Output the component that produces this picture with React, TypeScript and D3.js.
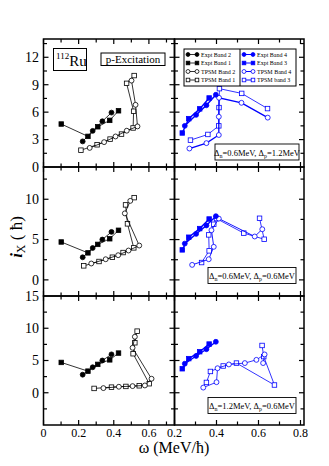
import React from "react";
import * as d3 from "d3";

// ---------- data ----------
const exptBand1Omega = [0.101, 0.253, 0.309, 0.377, 0.427];
const exptBand1Ix = [4.7, 3.35, 4.4, 5.1, 6.15];
const exptBand2Omega = [0.223, 0.28, 0.335, 0.387];
const exptBand2Ix = [2.8, 3.95, 5.0, 5.95];
const exptBand3Omega = [0.237, 0.268, 0.32, 0.365];
const exptBand3Ix = [3.72, 5.29, 6.36, 7.55];
const exptBand4Omega = [0.249, 0.303, 0.352, 0.397];
const exptBand4Ix = [4.5, 5.7, 6.75, 7.9];

// Row 1: Δn=0.6, Δp=1.2
const r1Tpsm1Omega = [0.213, 0.305, 0.379, 0.444, 0.51, 0.513, 0.473, 0.516];
const r1Tpsm1Ix = [1.84, 2.43, 3.05, 3.6, 4.27, 6.1, 9.15, 10.0];
const r1Tpsm2Omega = [0.263, 0.345, 0.41, 0.474, 0.535, 0.524, 0.501];
const r1Tpsm2Ix = [2.09, 2.72, 3.34, 3.97, 4.44, 6.8, 9.45];
const r1Tpsm3Omega = [0.276, 0.359, 0.411, 0.412, 0.414, 0.52, 0.643];
const r1Tpsm3Ix = [2.94, 3.56, 4.5, 6.5, 8.57, 8.05, 6.39];
const r1Tpsm4Omega = [0.271, 0.352, 0.411, 0.411, 0.412, 0.519, 0.644];
const r1Tpsm4Ix = [2.02, 2.61, 3.5, 5.5, 7.57, 7.02, 5.4];

// Row 2: Δn=0.6, Δp=0.6
const r2Tpsm1Omega = [0.229, 0.316, 0.392, 0.453, 0.514, 0.478, 0.467, 0.516];
const r2Tpsm1Ix = [1.74, 2.28, 2.81, 3.39, 3.97, 6.95, 9.3, 10.2];
const r2Tpsm2Omega = [0.272, 0.354, 0.425, 0.484, 0.545, 0.463, 0.494];
const r2Tpsm2Ix = [2.03, 2.56, 3.06, 3.64, 4.26, 8.25, 9.8];
const r2Tpsm3Omega = [0.329, 0.365, 0.363, 0.387, 0.4, 0.53, 0.627, 0.605];
const r2Tpsm3Ix = [2.15, 3.6, 5.58, 6.9, 7.6, 5.8, 5.04, 7.64];
const r2Tpsm4Omega = [0.284, 0.363, 0.387, 0.376, 0.411, 0.582, 0.618];
const r2Tpsm4Ix = [1.86, 2.56, 4.1, 6.16, 7.6, 5.38, 6.28];

// Row 3: Δn=1.2, Δp=0.6
const r3Tpsm1Omega = [0.288, 0.387, 0.469, 0.545, 0.602, 0.51, 0.52, 0.533];
const r3Tpsm1Ix = [0.67, 0.87, 0.98, 1.08, 1.4, 6.05, 7.75, 9.55];
const r3Tpsm2Omega = [0.341, 0.429, 0.507, 0.577, 0.615, 0.507, 0.52];
const r3Tpsm2Ix = [0.72, 0.93, 1.03, 1.13, 2.17, 6.97, 8.68];
const r3Tpsm3Omega = [0.352, 0.371, 0.432, 0.495, 0.676, 0.625, 0.617];
const r3Tpsm3Ix = [1.6, 3.3, 4.15, 4.6, 1.2, 5.6, 7.33];
const r3Tpsm4Omega = [0.337, 0.4, 0.405, 0.459, 0.535, 0.59, 0.629, 0.622];
const r3Tpsm4Ix = [0.8, 1.64, 3.8, 4.39, 4.6, 5.1, 5.94, 4.6];

const leftXTicks = [0, 0.2, 0.4, 0.6];
const leftXMinor = [0.1, 0.3, 0.5, 0.7];
const rightXTicks = [0.2, 0.4, 0.6, 0.8];
const rightXMinor = [0.3, 0.5, 0.7];

const row1YTicks = [0, 3, 6, 9, 12];
const row2YTicks = [0, 5, 10];
const row3YTicks = [0, 5, 10, 15];

const legendLeft = ["Expt Band 2", "Expt Band 1", "TPSM Band 2", "TPSM Band 1"];
const legendRight = ["Expt Band 4", "Expt Band 3", "TPSM Band 4", "TPSM band 3"];

const zip = (w: number[], i: number[]) => w.map((v, k) => [v, i[k]] as [number, number]);

// ---------- layout ----------
const X0 = 43.5, XM = 174.5, X1 = 304;
const FONT = "'Liberation Serif', 'Times New Roman', serif";
const BLUE = "#0000ff";

const rows = [
  {
    top: 39, bottom: 167, domain: [0, 14], ticks: row1YTicks, allTicks: d3.range(0, 14.01, 1.5),
    labels: ["0", "3", "6", "9", "12"],
    left: [
      { w: r1Tpsm1Omega, i: r1Tpsm1Ix, shape: "square" },
      { w: r1Tpsm2Omega, i: r1Tpsm2Ix, shape: "circle" },
    ],
    right: [
      { w: r1Tpsm3Omega, i: r1Tpsm3Ix, shape: "square", lw: 0.8 },
      { w: r1Tpsm4Omega, i: r1Tpsm4Ix, shape: "circle", lw: 1.3 },
    ],
    note: ["0.6", "1.2"],
  },
  {
    top: 167, bottom: 296, domain: [-2, 14], ticks: row2YTicks, allTicks: d3.range(0, 14.01, 2.5),
    labels: ["0", "5", "10"],
    left: [
      { w: r2Tpsm1Omega, i: r2Tpsm1Ix, shape: "square" },
      { w: r2Tpsm2Omega, i: r2Tpsm2Ix, shape: "circle" },
    ],
    right: [
      { w: r2Tpsm3Omega, i: r2Tpsm3Ix, shape: "square", lw: 0.8 },
      { w: r2Tpsm4Omega, i: r2Tpsm4Ix, shape: "circle", lw: 0.9 },
    ],
    note: ["0.6", "0.6"],
  },
  {
    top: 296, bottom: 425, domain: [-5, 15], ticks: row3YTicks, allTicks: d3.range(-5, 15.01, 2.5),
    labels: ["0", "5", "10", "15"],
    left: [
      { w: r3Tpsm1Omega, i: r3Tpsm1Ix, shape: "square" },
      { w: r3Tpsm2Omega, i: r3Tpsm2Ix, shape: "circle" },
    ],
    right: [
      { w: r3Tpsm3Omega, i: r3Tpsm3Ix, shape: "square", lw: 0.8 },
      { w: r3Tpsm4Omega, i: r3Tpsm4Ix, shape: "circle", lw: 0.8 },
    ],
    note: ["1.2", "0.6"],
  },
];

const xLeft = d3.scaleLinear().domain([0, 0.7457]).range([X0, XM]);
const xRight = d3.scaleLinear().domain([0.2, 0.8167]).range([XM, X1]);

function Marker({ x, y, shape, filled, color, size = 1 }: any) {
  const fill = filled ? color : "white";
  if (shape === "circle") return <circle cx={x} cy={y} r={2.45 * size} fill={fill} stroke={color} strokeWidth={0.8} />;
  const h = 2.25 * size;
  return <rect x={x - h} y={y - h} width={2 * h} height={2 * h} fill={fill} stroke={color} strokeWidth={0.8} />;
}

function SeriesPlot({ pts, xs, ys, shape, filled, color, lw }: any) {
  const line = d3.line<[number, number]>().x((d) => xs(d[0])).y((d) => ys(d[1]));
  return (
    <g>
      <path d={line(pts) || ""} fill="none" stroke={color} strokeWidth={lw} />
      {pts.map((p: [number, number], k: number) => (
        <Marker key={k} x={xs(p[0])} y={ys(p[1])} shape={shape} filled={filled} color={color} />
      ))}
    </g>
  );
}

function Panel({ x0, x1, top, bottom, xs, ys, xMajor, xMinor, yAll, yMajor }: any) {
  const ticks: any[] = [];
  xMajor.forEach((t: number, k: number) => {
    const x = xs(t);
    ticks.push(<line key={"xb" + k} x1={x} x2={x} y1={bottom} y2={bottom - 5} stroke="black" strokeWidth={1.2} />);
    ticks.push(<line key={"xt" + k} x1={x} x2={x} y1={top} y2={top + 5} stroke="black" strokeWidth={1.2} />);
  });
  xMinor.forEach((t: number, k: number) => {
    const x = xs(t);
    ticks.push(<line key={"xbm" + k} x1={x} x2={x} y1={bottom} y2={bottom - 3.5} stroke="black" strokeWidth={1.2} />);
    ticks.push(<line key={"xtm" + k} x1={x} x2={x} y1={top} y2={top + 3.5} stroke="black" strokeWidth={1.2} />);
  });
  yAll.forEach((t: number, k: number) => {
    const y = ys(t);
    if (y <= top + 0.5 || y >= bottom - 0.5) return;
    const major = yMajor.some((m: number) => Math.abs(m - t) < 1e-6);
    const len = major ? 5 : 3.5;
    ticks.push(<line key={"yl" + k} x1={x0} x2={x0 + len} y1={y} y2={y} stroke="black" strokeWidth={1.2} />);
    ticks.push(<line key={"yr" + k} x1={x1} x2={x1 - len} y1={y} y2={y} stroke="black" strokeWidth={1.2} />);
  });
  return (
    <g>
      <rect x={x0} y={top} width={x1 - x0} height={bottom - top} fill="none" stroke="black" strokeWidth={1.5} />
      {ticks}
    </g>
  );
}

function LegendSym({ x, y, shape, filled, color, lw }: any) {
  return (
    <g>
      <line x1={x} x2={x + 9} y1={y} y2={y} stroke={color} strokeWidth={lw} />
      <Marker x={x} y={y} shape={shape} filled={filled} color={color} size={0.8} />
      <Marker x={x + 9} y={y} shape={shape} filled={filled} color={color} size={0.8} />
    </g>
  );
}

export default function App() {
  const legendRows = [54.5, 63, 71.5, 80];
  const legendShapes: any[] = [
    { shape: "circle", filled: true },
    { shape: "square", filled: true },
    { shape: "circle", filled: false },
    { shape: "square", filled: false },
  ];
  return (
    <svg width={329} height={466} style={{ position: "absolute", left: 0, top: 0, fontFamily: FONT }}>
      <rect width={329} height={466} fill="white" />
      {rows.map((row, ri) => {
        const ys = d3.scaleLinear().domain(row.domain).range([row.bottom, row.top]);
        return (
          <g key={ri}>
            {row.left.map((s: any, k: number) => (
              <SeriesPlot key={"lt" + k} pts={zip(s.w, s.i)} xs={xLeft} ys={ys} shape={s.shape} filled={false} color="black" lw={0.8} />
            ))}
            <SeriesPlot pts={zip(exptBand1Omega, exptBand1Ix)} xs={xLeft} ys={ys} shape="square" filled color="black" lw={0.8} />
            <SeriesPlot pts={zip(exptBand2Omega, exptBand2Ix)} xs={xLeft} ys={ys} shape="circle" filled color="black" lw={0.8} />
            {row.right.map((s: any, k: number) => (
              <SeriesPlot key={"rt" + k} pts={zip(s.w, s.i)} xs={xRight} ys={ys} shape={s.shape} filled={false} color={BLUE} lw={s.lw} />
            ))}
            <SeriesPlot pts={zip(exptBand3Omega, exptBand3Ix)} xs={xRight} ys={ys} shape="square" filled color={BLUE} lw={1.4} />
            <SeriesPlot pts={zip(exptBand4Omega, exptBand4Ix)} xs={xRight} ys={ys} shape="circle" filled color={BLUE} lw={1.4} />

            <Panel x0={X0} x1={XM} top={row.top} bottom={row.bottom} xs={xLeft} ys={ys}
              xMajor={leftXTicks} xMinor={leftXMinor} yAll={row.allTicks} yMajor={row.ticks} />
            <Panel x0={XM} x1={X1} top={row.top} bottom={row.bottom} xs={xRight} ys={ys}
              xMajor={rightXTicks} xMinor={rightXMinor} yAll={row.allTicks} yMajor={row.ticks} />

            {row.ticks.map((t, k) => (
              <text key={"yl" + k} x={39} y={ys(t)} dy="0.35em" textAnchor="end" fontSize={14}>{row.labels[k]}</text>
            ))}

            <g>
              <rect x={ri === 0 ? 215 : 208} y={ri === 0 ? 144 : ri === 1 ? 267.5 : 397.5} width={ri === 0 ? 84 : 88} height={16}
                fill="white" stroke="black" strokeWidth={0.9} />
              <text x={ri === 0 ? 257 : 252} y={ri === 0 ? 155.5 : ri === 1 ? 279 : 409} textAnchor="middle" fontSize={8.5}>
                Δ<tspan fontSize={6} dy={2}>n</tspan><tspan dy={-2}>={row.note[0]}MeV, Δ</tspan>
                <tspan fontSize={6} dy={2}>p</tspan><tspan dy={-2}>={row.note[1]}MeV</tspan>
              </text>
            </g>
          </g>
        );
      })}

      {leftXTicks.map((t, k) => (
        <text key={"xl" + k} x={xLeft(t)} y={437} textAnchor="middle" fontSize={12}>{t === 0 ? "0" : t.toFixed(1)}</text>
      ))}
      {rightXTicks.map((t, k) => (
        <text key={"xr" + k} x={xRight(t)} y={437} textAnchor="middle" fontSize={12}>{t.toFixed(1)}</text>
      ))}

      <text x={174} y={453} textAnchor="middle" fontSize={16}>ω (MeV/ħ)</text>
      <text transform="translate(22,237) rotate(-90)" textAnchor="middle" fontSize={17}>
        <tspan fontStyle="italic" fontWeight="bold">i</tspan>
        <tspan fontSize={12} dy={3}>X</tspan>
        <tspan dy={-3}> ( ħ)</tspan>
      </text>

      <rect x={53.5} y={48.5} width={33} height={22} fill="white" stroke="black" strokeWidth={1} />
      <text x={56} y={66} fontSize={15}>
        <tspan fontSize={9} dy={-7}>112</tspan>
        <tspan dy={7}>Ru</tspan>
      </text>
      <rect x={101} y={53} width={64} height={12.5} fill="white" stroke="black" strokeWidth={1} />
      <text x={133} y={63} textAnchor="middle" fontSize={11}>p-Excitation</text>

      <rect x={184} y={49} width={112} height={37} fill="white" stroke="black" strokeWidth={1} />
      <line x1={240} x2={240} y1={49} y2={86} stroke="black" strokeWidth={1} />
      {legendRows.map((y, k) => (
        <g key={"lg" + k}>
          <LegendSym x={188} y={y} shape={legendShapes[k].shape} filled={legendShapes[k].filled} color="black" lw={0.8} />
          <text x={201} y={y} dy="0.35em" fontSize={6}>{legendLeft[k]}</text>
          <LegendSym x={244} y={y} shape={legendShapes[k].shape} filled={legendShapes[k].filled} color={BLUE} lw={1} />
          <text x={257} y={y} dy="0.35em" fontSize={6}>{legendRight[k]}</text>
        </g>
      ))}
    </svg>
  );
}
